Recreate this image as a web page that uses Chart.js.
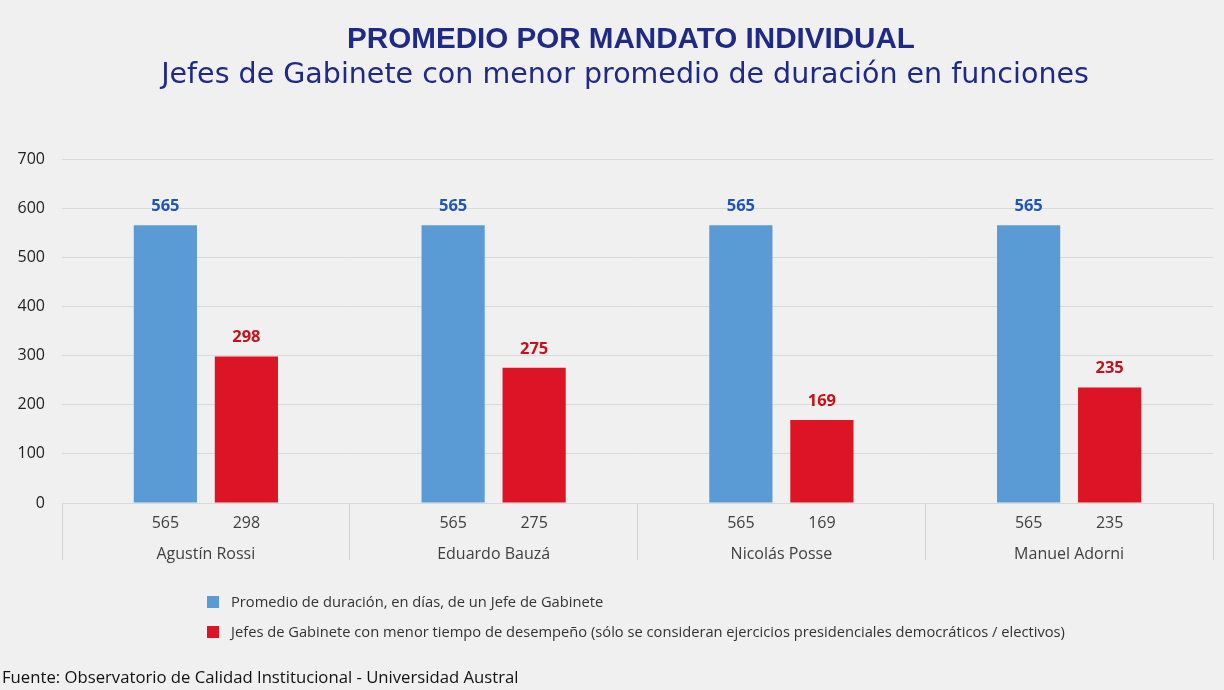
<!DOCTYPE html>
<html>
<head>
<meta charset="utf-8">
<script src="https://cdn.jsdelivr.net/npm/chart.js@4.4.1/dist/chart.umd.min.js"></script>
<style>
  body { margin: 0; background: #f0f0f0; }
  #wrap { position: relative; width: 1224px; height: 690px; overflow: hidden; }
  #chart { position: absolute; left: 0; top: 0; }
  .tit { position: absolute; left: 0; width: 1224px; box-sizing: border-box; text-align: center; color: #1f2a86; white-space: nowrap; }
  #t1 { top: 20px; padding-left: 38px; font: bold 29.6px "Liberation Sans", sans-serif; line-height: 36px; }
  #t2 { top: 56px; padding-left: 26px; font: 28.5px "DejaVu Sans", sans-serif; line-height: 36px; }
  .leg { position: absolute; left: 207px; font: 14.7px "Open Sans", sans-serif; color: #333; white-space: nowrap; }
  .leg i { display: inline-block; width: 12px; height: 12px; margin-right: 12px; vertical-align: -1px; }
  #src { position: absolute; left: 2px; top: 665px; font: 16.7px "Open Sans", sans-serif; color: #111; white-space: nowrap; }
</style>
</head>
<body>
<div id="wrap">
  <canvas id="chart" width="1224" height="690"></canvas>
  <div class="tit" id="t1">PROMEDIO POR MANDATO INDIVIDUAL</div>
  <div class="tit" id="t2">Jefes de Gabinete con menor promedio de duración en funciones</div>
  <div class="leg" id="leg1" style="top:591px"><i style="background:#5b9bd5"></i>Promedio de duración, en días, de un Jefe de Gabinete</div>
  <div class="leg" id="leg2" style="top:621px"><i style="background:#dc1425"></i>Jefes de Gabinete con menor tiempo de desempeño (sólo se consideran ejercicios presidenciales democráticos / electivos)</div>
  <div id="src">Fuente: Observatorio de Calidad Institucional - Universidad Austral</div>
</div>
<script>
// data
var nombres = ['Agustín Rossi', 'Eduardo Bauzá', 'Nicolás Posse', 'Manuel Adorni'];
var promedio = [565, 565, 565, 565];
var menor = [298, 275, 169, 235];
var yTicks = [0, 100, 200, 300, 400, 500, 600, 700];

var colBars = ['#5b9bd5', '#dc1425'];
var colLabels = ['#1f55b8', '#c8101c'];

// labels over bars + table under the axis
var tablaPlugin = {
    id: 'tabla',
    afterDatasetsDraw: function (chart) {
        var ctx = chart.ctx;
        var xs = chart.scales.x;
        ctx.save();
        ctx.textAlign = 'center';
        ctx.textBaseline = 'middle';
        chart.data.datasets.forEach(function (ds, di) {
            var meta = chart.getDatasetMeta(di);
            meta.data.forEach(function (bar, i) {
                ctx.font = 'bold 16.5px "Open Sans", sans-serif';
                ctx.fillStyle = colLabels[di];
                ctx.fillText(ds.data[i], bar.x, bar.y - 19);
                ctx.font = '16px "Open Sans", sans-serif';
                ctx.fillStyle = '#404040';
                ctx.fillText(ds.data[i], bar.x, chart.chartArea.bottom + 20);
            });
        });
        ctx.font = '16px "Open Sans", sans-serif';
        ctx.fillStyle = '#404040';
        nombres.forEach(function (n, i) {
            ctx.fillText(n, xs.getPixelForValue(i), chart.chartArea.bottom + 51);
        });
        ctx.restore();
    }
};

new Chart(document.getElementById('chart'), {
    type: 'bar',
    data: {
        labels: nombres,
        datasets: [
            { label: 'Promedio de duración, en días, de un Jefe de Gabinete', data: promedio, backgroundColor: colBars[0] },
            { label: 'Jefes de Gabinete con menor tiempo de desempeño', data: menor, backgroundColor: colBars[1] }
        ]
    },
    options: {
        responsive: false,
        animation: false,
        categoryPercentage: 0.563,
        barPercentage: 0.78,
        layout: { padding: { top: 159, bottom: 130, left: 0, right: 11 } },
        plugins: {
            legend: { display: false },
            tooltip: { enabled: false }
        },
        scales: {
            x: {
                grid: { offset: true, drawOnChartArea: false, tickLength: 57, color: '#d4d4d4' },
                border: { color: '#d9d9d9' },
                ticks: { display: false }
            },
            y: {
                min: 0,
                max: 700,
                afterBuildTicks: function (s) { s.ticks = yTicks.map(function (v) { return { value: v }; }); },
                afterFit: function (s) { s.width = 62; },
                grid: { color: '#d9d9d9', drawTicks: false },
                border: { display: false },
                ticks: { padding: 17, color: '#222', font: { family: '"Open Sans", sans-serif', size: 16 } }
            }
        }
    },
    plugins: [tablaPlugin]
});
</script>
</body>
</html>
